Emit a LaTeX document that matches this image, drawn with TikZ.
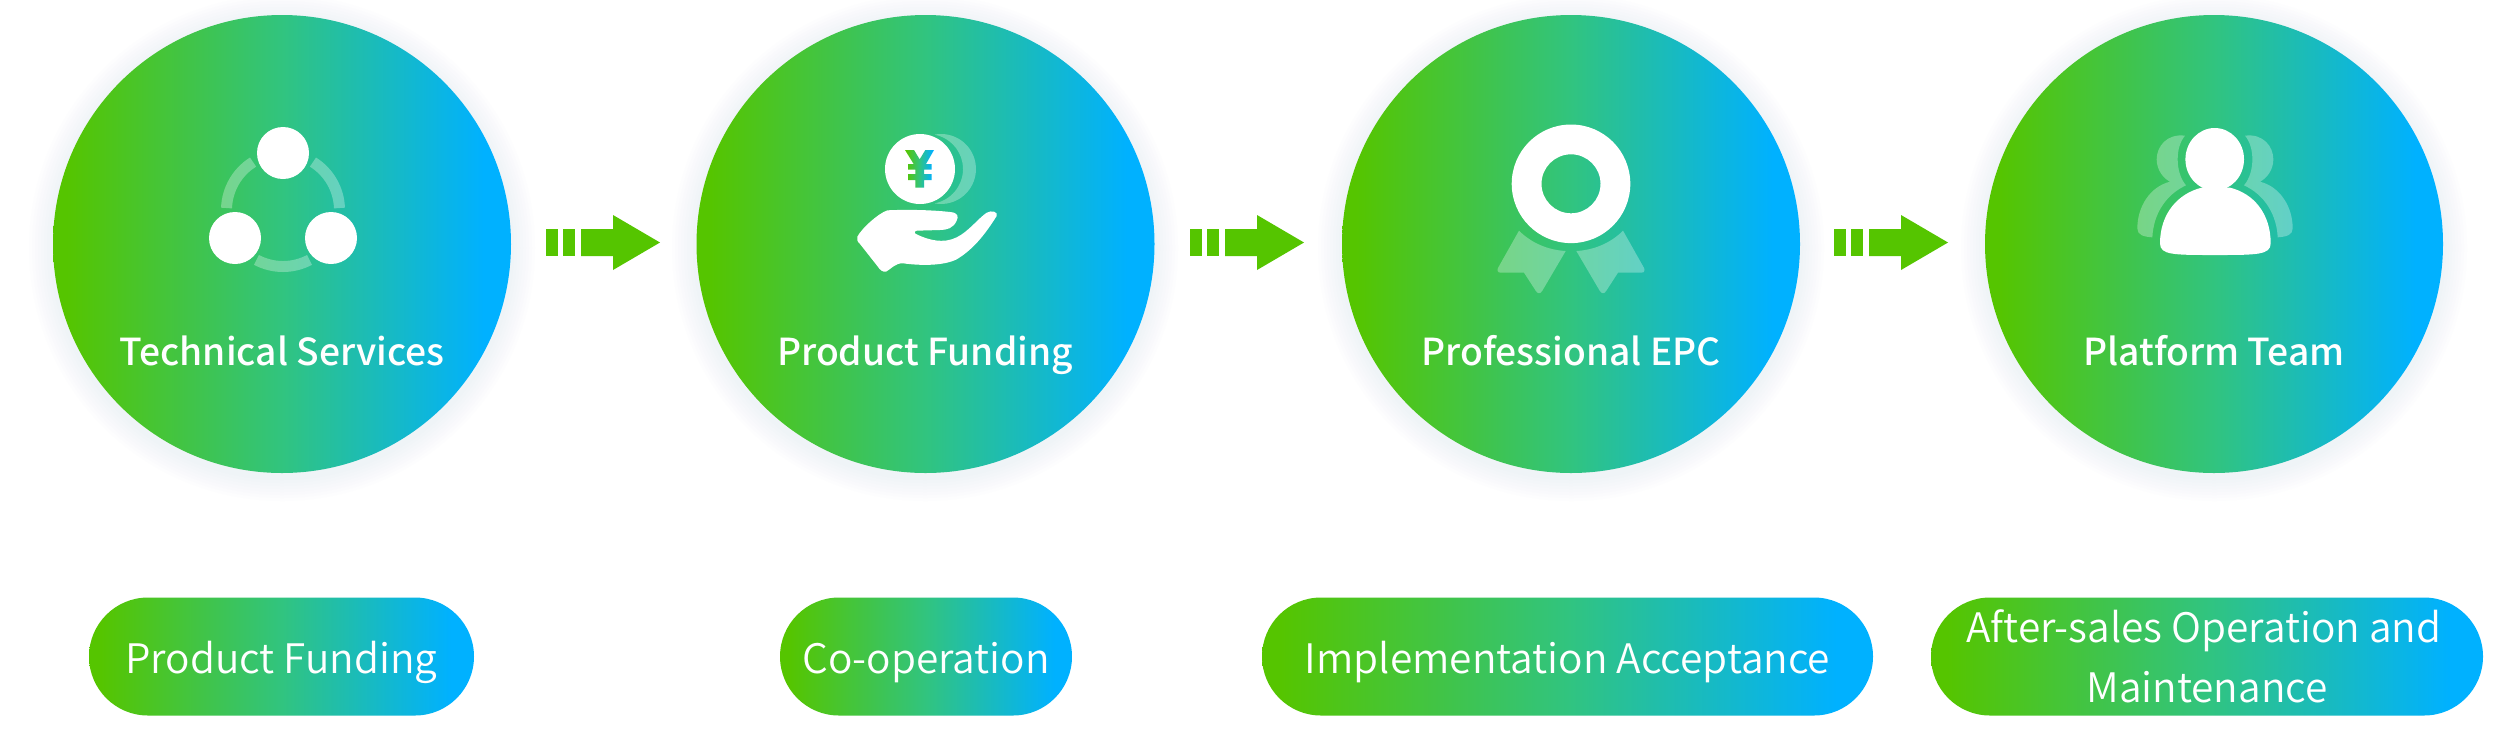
\documentclass[tikz,border=0pt]{standalone}
\usepackage{fontspec}
\usetikzlibrary{shapes.misc}
\setmainfont{Noto Sans CJK SC}
\newfontfamily\medfont{Noto Sans CJK SC Medium}
\newfontfamily\lightfont{Noto Sans CJK SC DemiLight}
\definecolor{gA}{HTML}{55C500}
\definecolor{gM}{HTML}{31C47F}
\definecolor{gB}{HTML}{00B1FF}
\definecolor{halo}{HTML}{DCE6F5}
\pgfdeclarehorizontalshading{gbshade}{100bp}{color(0bp)=(gA); color(26.5bp)=(gA); color(50bp)=(gM); color(72bp)=(gB); color(100bp)=(gB)}
\tikzset{
  grad/.style={shade,shading=gbshade},
  bigcircle/.style={circle,grad,minimum size=229pt,inner sep=0pt},
  pill/.style={rounded rectangle,grad,minimum height=59pt,inner sep=0pt},
  bigtext/.style={anchor=base,text=white,font=\medfont\fontsize{18.6pt}{22pt}\selectfont,inner sep=0pt},
  pilltext/.style={text=white,font=\lightfont\fontsize{20.3pt}{30pt}\selectfont,align=center,inner sep=0pt},
  ghost/.style={fill=white,fill opacity=.3},
  arrowfill/.style={fill=gA},
}
\newcommand{\haloat}[1]{\foreach \i in {1,...,8}{\fill[halo,opacity=.05] (#1,-248) circle[radius={229+\i*3}];}}
\newcommand{\dasharrow}[1]{\begin{scope}[shift={(#1,0)}]
  \fill[arrowfill] (546,-229) rectangle (558,-256);
  \fill[arrowfill] (563,-229) rectangle (575,-256);
  \fill[arrowfill] (581,-229) -- (613,-229) -- (613,-215) -- (660,-242.5) -- (613,-270) -- (613,-256) -- (581,-256) -- cycle;
\end{scope}}
\begin{document}
\begin{tikzpicture}[x=0.5pt,y=0.5pt]
\useasboundingbox (0,0) rectangle (2495,-746);
\fill[white] (0,0) rectangle (2495,-746);
\haloat{282}\haloat{925}\haloat{1571}\haloat{2214}
\node[bigcircle] (c1) at (282,-244) {};
\node[bigcircle] (c2) at (925.5,-244) {};
\node[bigcircle] (c3) at (1571,-244) {};
\node[bigcircle] (c4) at (2214,-244) {};
\dasharrow{0}\dasharrow{644}\dasharrow{1288}
% icon 1
\begin{scope}[shift={(283,-210)}]
  \draw[white,opacity=.3,line width=5.5pt] (178:56.5) arc[start angle=178,end angle=122,radius=56.5];
  \draw[white,opacity=.3,line width=5.5pt] (58:56.5) arc[start angle=58,end angle=2,radius=56.5];
  \draw[white,opacity=.3,line width=5.5pt] (-118:56.5) arc[start angle=-118,end angle=-62,radius=56.5];
\end{scope}
\fill[white] (283,-153) circle[radius=26] (235,-238) circle[radius=26] (331,-238) circle[radius=26];
% icon 2
\path[ghost] (934.5,-134.6) arc[start angle=100.7,end angle=-100.7,radius=35] arc[start angle=-79.3,end angle=79.3,radius=35] -- cycle;
\fill[white] (920,-169) circle[radius=35];
\begin{scope}[shift={(800,-100)},x=0.16667pt,y=-0.16667pt]
  \path[grad] (315,150)--(342,150)--(359,178)--(376,150)--(402,150)--(378,192)--(395,192)--(395,209)--(372,209)--(372,222)--(395,222)--(395,240)--(372,240)--(372,263)--(346,263)--(346,240)--(324,240)--(324,222)--(346,222)--(346,209)--(324,209)--(324,192)--(341,192)--cycle;
  \fill[white] (172,410) .. controls (185,385) and (235,340) .. (262,331) .. controls (320,328) and (400,330) .. (450,336) .. controls (475,338) and (476,350) .. (470,362) .. controls (460,385) and (440,390) .. (420,390) -- (350,392) .. controls (342,394) and (342,400) .. (350,403) .. controls (385,420) and (430,432) .. (470,412) .. controls (505,395) and (535,355) .. (560,338) .. controls (575,330) and (595,335) .. (590,348) .. controls (560,395) and (525,445) .. (470,478) .. controls (430,498) and (360,497) .. (310,490) .. controls (285,488) and (270,510) .. (258,515) .. controls (248,517) and (240,510) .. (232,498) -- (180,432) .. controls (172,425) and (170,418) .. (172,410) -- cycle;
\end{scope}
% icon 3
\fill[white,even odd rule] (1571,-183.8) circle[radius=59.3] (1571,-183.8) circle[radius=29.5];
\begin{scope}[shift={(1450,-100)},x=0.16667pt,y=-0.16667pt]
  \path[ghost] (207,392) .. controls (245,430) and (295,450) .. (347,453) -- (277,572) .. controls (272,582) and (262,582) .. (257,572) -- (222,518) -- (152,518) .. controls (142,518) and (140,510) .. (145,502) -- cycle;
  \path[ghost] (519,392) .. controls (481,430) and (431,450) .. (379,453) -- (449,572) .. controls (454,582) and (464,582) .. (469,572) -- (504,518) -- (574,518) .. controls (584,518) and (586,510) .. (581,502) -- cycle;
\end{scope}
% icon 4
\begin{scope}[shift={(2100,-100)},x=0.16667pt,y=-0.16667pt]
  \path[ghost] (255,107) .. controls (200,100) and (170,140) .. (170,178) .. controls (170,210) and (190,235) .. (210,245) .. controls (150,260) and (112,320) .. (112,385) .. controls (112,405) and (130,410) .. (157,412) .. controls (160,345) and (195,285) .. (258,256) .. controls (240,235) and (233,205) .. (233,178) .. controls (233,150) and (240,125) .. (255,107) -- cycle;
  \path[ghost] (435,107) .. controls (490,100) and (520,140) .. (520,178) .. controls (520,210) and (500,235) .. (480,245) .. controls (540,260) and (578,320) .. (578,385) .. controls (578,405) and (560,410) .. (533,412) .. controls (530,345) and (495,285) .. (432,256) .. controls (450,235) and (457,205) .. (457,178) .. controls (457,150) and (450,125) .. (435,107) -- cycle;
  \fill[white] (390,263) .. controls (460,280) and (512,340) .. (512,430) .. controls (512,465) and (470,465) .. (345,465) .. controls (220,465) and (180,465) .. (180,430) .. controls (180,340) and (235,280) .. (305,263) -- cycle;
\end{scope}
\fill[white] (2214.7,-159.3) ellipse[x radius=29.3,y radius=31.3];
% labels
\node[bigtext] (t1) at (282,-365) {Technical Services};
\node[bigtext] (t2) at (925,-365) {Product Funding};
\node[bigtext] (t3) at (1571,-365) {Professional EPC};
\node[bigtext] (t4) at (2214,-365) {Platform Team};
% pills
\node[pill,minimum width=192.5pt] (p1) at (281.5,-656.5) {};
\node[pill,minimum width=146pt] (p2) at (926,-656.5) {};
\node[pill,minimum width=305.5pt] (p3) at (1567.5,-656.5) {};
\node[pill,minimum width=276pt] (p4) at (2207,-656.5) {};
\node[pilltext] (q1) at ([yshift=-3pt]p1.center) {Product Funding};
\node[pilltext] (q2) at ([yshift=-3pt]p2.center) {Co-operation};
\node[pilltext] (q3) at ([yshift=-3pt]p3.center) {Implementation Acceptance};
\node[pilltext] (q4) at (p4) {After-sales Operation and\hspace*{3pt}\\Maintenance};
\end{tikzpicture}
\end{document}
